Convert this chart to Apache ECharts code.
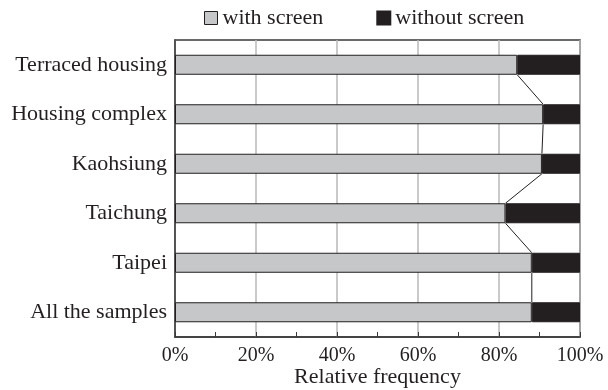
<!DOCTYPE html>
<html>
<head>
<meta charset="utf-8">
<script src="https://cdn.jsdelivr.net/npm/echarts@6/dist/echarts.min.js"></script>
<style>
  html, body { margin: 0; padding: 0; background: #fff; }
  #main { width: 608px; height: 390px; }
</style>
</head>
<body>
<div id="main"></div>
<script>
// 数据 (top to bottom)
var categories = ['Terraced housing', 'Housing complex', 'Kaohsiung', 'Taichung', 'Taipei', 'All the samples'];
var withScreen = [84.5, 90.9, 90.6, 81.6, 88.1, 88.1];
var withoutScreen = [15.5, 9.1, 9.4, 18.4, 11.9, 11.9];
var seriesNames = ['with screen', 'without screen'];
var xTicks = [0, 20, 40, 60, 80, 100];

var FONT = '"Liberation Serif", "Times New Roman", serif';
var INK = '#231f20';
var BAR_W = 20;

var myChart = echarts.init(document.getElementById('main'));

// 连接线: from the boundary of one bar to the next one
function renderLink(params, api) {
  var i = api.value(0);
  if (i >= withScreen.length - 1) return null;
  var a = api.coord([withScreen[i], i]);
  var b = api.coord([withScreen[i + 1], i + 1]);
  return {
    type: 'line',
    shape: { x1: a[0], y1: a[1] + BAR_W / 2, x2: b[0], y2: b[1] - BAR_W / 2 },
    style: { stroke: INK, lineWidth: 1 }
  };
}

var option = {
  animation: false,
  textStyle: { fontFamily: FONT, color: INK },
  legend: {
    left: 199,
    top: 2,
    itemWidth: 13,
    itemHeight: 13,
    itemGap: 53,
    textStyle: { fontFamily: FONT, fontSize: 22, color: INK },
    data: [
      { name: seriesNames[0], icon: 'rect', itemStyle: { borderColor: INK, borderWidth: 1 } },
      { name: seriesNames[1], icon: 'rect' }
    ]
  },
  grid: {
    left: 175, right: 28, top: 40, bottom: 53,
    outerBoundsMode: 'none',
    containLabel: false,
    show: true, borderColor: '#3a3a3a', borderWidth: 1.5
  },
  xAxis: {
    type: 'value',
    min: xTicks[0],
    max: xTicks[xTicks.length - 1],
    interval: 20,
    name: 'Relative frequency',
    nameLocation: 'middle',
    nameGap: 29,
    nameMoveOverlap: false,
    nameTextStyle: { fontFamily: FONT, fontSize: 22, color: INK, verticalAlign: 'top' },
    axisLine: { show: true, lineStyle: { color: '#3a3a3a', width: 1.5 } },
    axisTick: { show: true, inside: true, length: 5, lineStyle: { color: '#3a3a3a' } },
    minorTick: { show: true, splitNumber: 2, length: 5, lineStyle: { color: '#3a3a3a' } },
    axisLabel: {
      fontFamily: FONT, fontSize: 20, color: INK, margin: 9,
      formatter: function(v) { return v + '%'; }
    },
    splitLine: { show: true, lineStyle: { color: '#b8b8b8', width: 1.5 } }
  },
  yAxis: {
    type: 'category',
    inverse: true,
    data: categories,
    axisLine: { show: true, lineStyle: { color: '#3a3a3a', width: 1.5 } },
    axisTick: { show: false },
    axisLabel: { fontFamily: FONT, fontSize: 22, color: INK, margin: 8 }
  },
  series: [
    {
      name: seriesNames[0],
      type: 'bar',
      stack: 'all',
      barWidth: BAR_W,
      data: withScreen,
      itemStyle: { color: '#c6c7c9', borderColor: INK, borderWidth: 1 }
    },
    {
      name: seriesNames[1],
      type: 'bar',
      stack: 'all',
      barWidth: BAR_W,
      data: withoutScreen,
      itemStyle: { color: INK, borderColor: INK, borderWidth: 1 }
    },
    {
      type: 'custom',
      renderItem: renderLink,
      data: categories.map(function(c, i) { return [i]; }),
      encode: { y: 0 },
      silent: true,
      z: 5
    }
  ]
};

myChart.setOption(option);
</script>
</body>
</html>
